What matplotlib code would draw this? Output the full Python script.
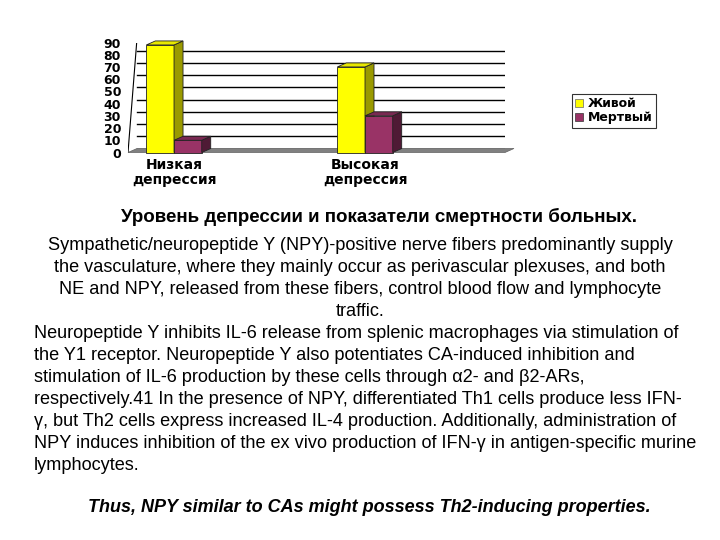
import numpy as np
import matplotlib.pyplot as plt
from matplotlib.patches import Polygon, Patch
from matplotlib.transforms import IdentityTransform

# Данные диаграммы
categories = ['Низкая\nдепрессия', 'Высокая\nдепрессия']
alive = [88, 70]     # Живой
dead = [10, 30]      # Мертвый
series_names = ['Живой', 'Мертвый']

caption = 'Уровень депрессии и показатели смертности больных.'
para1 = ['Sympathetic/neuropeptide Y (NPY)-positive nerve fibers predominantly supply',
         'the vasculature, where they mainly occur as perivascular plexuses, and both',
         'NE and NPY, released from these fibers, control blood flow and lymphocyte',
         'traffic.']
para2 = ['Neuropeptide Y inhibits IL-6 release from splenic macrophages via stimulation of',
         'the Y1 receptor. Neuropeptide Y also potentiates CA-induced inhibition and',
         'stimulation of IL-6 production by these cells through \u03b12- and \u03b22-ARs,',
         'respectively.41 In the presence of NPY, differentiated Th1 cells produce less IFN-',
         '\u03b3, but Th2 cells express increased IL-4 production. Additionally, administration of',
         'NPY induces inhibition of the ex vivo production of IFN-\u03b3 in antigen-specific murine',
         'lymphocytes.']
conclusion = 'Thus, NPY similar to CAs might possess Th2-inducing properties.'

W, H = 720, 540
fig = plt.figure(figsize=(W / 100, H / 100), dpi=100)

# передняя плоскость диаграммы
ax = fig.add_axes([128 / W, 1 - 152.5 / H, 377 / W, 110 / H])
x0, x1 = -0.241, 1.733
ax.set_xlim(x0, x1)
ax.set_ylim(0, 90)
ax.patch.set_visible(False)
for s in ax.spines.values():
    s.set_visible(False)

DX, DY = 9, 4  # смещение глубины (пиксели)
bw = 0.145
x = np.arange(len(categories))


def poly(pts, back, fc, ec='#222222', lw=0.6, z=2):
    # pts в координатах данных, back - флаги смещения на глубину
    disp = ax.transData.transform(pts)
    disp = disp + np.array([[DX, DY] if b else [0, 0] for b in back])
    ax.add_patch(Polygon(disp, closed=True, transform=IdentityTransform(),
                         facecolor=fc, edgecolor=ec, lw=lw, zorder=z, clip_on=False))


def line3d(pts, back, **kw):
    disp = ax.transData.transform(pts)
    disp = disp + np.array([[DX, DY] if b else [0, 0] for b in back])
    ax.add_line(plt.Line2D(disp[:, 0], disp[:, 1], transform=IdentityTransform(), **kw))


# задняя стенка: линии сетки
for v in range(0, 100, 10):
    line3d([(x0, v), (x1, v)], [1, 1], color='black', lw=1.0, zorder=1)
line3d([(x1, 0), (x1, 90)], [1, 1], color='black', lw=0.8, zorder=1)
# ось Y (ребро левой стенки)
line3d([(x0, 0), (x0, 90)], [0, 1], color='black', lw=0.8, zorder=1)

# пол
poly([(x0, 0), (x1, 0), (x1, 0), (x0, 0)], [0, 0, 1, 1], '#808080', ec='#606060', lw=0.5, z=1.5)


def bar3d(left, h, front, side, top):
    r = left + bw
    poly([(left, 0), (r, 0), (r, h), (left, h)], [0, 0, 0, 0], front)
    poly([(r, 0), (r, 0), (r, h), (r, h)], [0, 1, 1, 0], side)
    poly([(left, h), (r, h), (r, h), (left, h)], [0, 0, 1, 1], top)


for i in range(len(categories)):
    bar3d(x[i] - bw, alive[i], '#FFFF00', '#9A9A00', '#E8E800')
    bar3d(x[i], dead[i], '#993366', '#4F1A35', '#7A2952')

ax.set_yticks(range(0, 100, 10))
ax.set_yticklabels([str(v) for v in range(0, 100, 10)], fontsize=9, fontweight='bold')
ax.tick_params(axis='y', length=0, pad=5)
ax.set_xticks(x)
ax.set_xticklabels(categories, fontsize=10, fontweight='bold', linespacing=1.1)
ax.tick_params(axis='x', length=0, pad=4)

# легенда
handles = [Patch(facecolor='#FFFF00', edgecolor='#666666', lw=0.5),
           Patch(facecolor='#993366', edgecolor='#333333', lw=0.5)]
leg = fig.legend(handles, series_names, loc='upper left',
                 bbox_to_anchor=(572 / W, 1 - 94 / H), frameon=True, fancybox=False,
                 prop={'weight': 'bold', 'size': 9}, handlelength=0.6, handleheight=0.6,
                 handletextpad=0.4, borderpad=0.25, labelspacing=0.1, borderaxespad=0)
leg.get_frame().set_edgecolor('black')
leg.get_frame().set_linewidth(0.8)

# текст под диаграммой
fs = 13.1
fig.text(379 / W, 1 - 217 / H, caption, ha='center', va='center', fontsize=13.5,
         fontweight='bold', family='Liberation Sans')
for k, t in enumerate(para1):
    fig.text(360 / W, 1 - (246 + 21.7 * k) / H, t, ha='center', va='center',
             fontsize=fs, family='Liberation Sans')
for k, t in enumerate(para2):
    fig.text(34 / W, 1 - (334 + 21.9 * k) / H, t, ha='left', va='center',
             fontsize=fs, family='Liberation Sans')
fig.text(369 / W, 1 - 508 / H, conclusion, ha='center', va='center', fontsize=13,
         fontweight='bold', fontstyle='italic', family='Liberation Sans')

fig.savefig('out.png', dpi=100)
